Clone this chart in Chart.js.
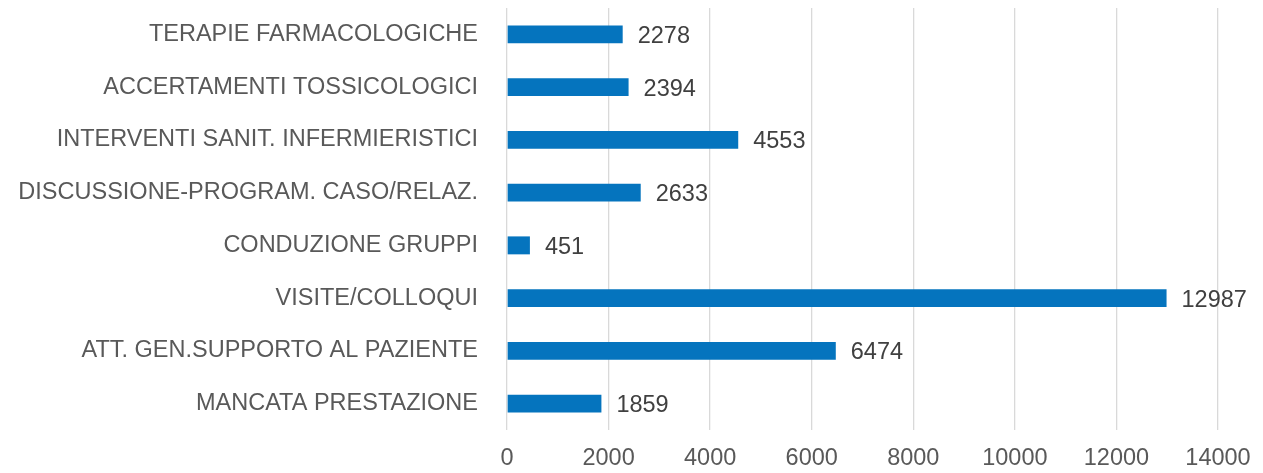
<!DOCTYPE html>
<html>
<head>
<meta charset="utf-8">
<script src="https://cdn.jsdelivr.net/npm/chart.js@4/dist/chart.umd.min.js"></script>
<style>
  html, body { margin: 0; padding: 0; background: #fff; }
  #wrap { width: 1263px; height: 473px; }
</style>
</head>
<body>
<div id="wrap"><canvas id="c"></canvas></div>
<script>
const categories = [
  "TERAPIE FARMACOLOGICHE",
  "ACCERTAMENTI TOSSICOLOGICI",
  "INTERVENTI SANIT. INFERMIERISTICI",
  "DISCUSSIONE-PROGRAM. CASO/RELAZ.",
  "CONDUZIONE GRUPPI",
  "VISITE/COLLOQUI",
  "ATT. GEN.SUPPORTO AL PAZIENTE",
  "MANCATA PRESTAZIONE"
];
const values = [2278, 2394, 4553, 2633, 451, 12987, 6474, 1859];
const xTicks = [0, 2000, 4000, 6000, 8000, 10000, 12000, 14000];

const font = "'Liberation Sans', Arial, sans-serif";

// etichette valori a destra delle barre
const valueLabels = {
  id: "valueLabels",
  afterDatasetsDraw(chart) {
    const ctx = chart.ctx;
    const meta = chart.getDatasetMeta(0);
    ctx.save();
    ctx.font = "23.5px " + font;
    ctx.fillStyle = "#404040";
    ctx.textAlign = "left";
    ctx.textBaseline = "middle";
    meta.data.forEach((bar, i) => {
      ctx.fillText(String(values[i]), bar.x + 15, bar.y + 2);
    });
    ctx.restore();
  }
};

new Chart(document.getElementById("c"), {
  type: "bar",
  data: {
    labels: categories,
    datasets: [{
      data: values,
      backgroundColor: "#0574BE",
      categoryPercentage: 1,
      barPercentage: 0.34
    }]
  },
  options: {
    indexAxis: "y",
    responsive: true,
    maintainAspectRatio: false,
    animation: false,
    layout: { padding: { top: 8, right: 45, bottom: 0, left: 0 } },
    plugins: {
      legend: { display: false },
      tooltip: { enabled: false }
    },
    scales: {
      x: {
        min: 0,
        max: 14000,
        afterBuildTicks(axis) { axis.ticks = xTicks.map(v => ({ value: v })); },
        afterFit(axis) { axis.height = 43; axis.paddingLeft = 0; axis.paddingRight = 0; },
        grid: { color: "#d9d9d9", lineWidth: 1.3, drawTicks: false },
        border: { display: false },
        ticks: {
          padding: 14,
          color: "#595959",
          font: { family: font, size: 23.5 },
          callback: v => String(v)
        }
      },
      y: {
        afterFit(axis) { axis.width = 507; axis.paddingTop = 0; axis.paddingBottom = 0; },
        grid: { display: false },
        border: { display: false },
        ticks: {
          padding: 21,
          color: "#595959",
          font: { family: font, size: 23.5 }
        }
      }
    }
  },
  plugins: [valueLabels]
});
</script>
</body>
</html>
